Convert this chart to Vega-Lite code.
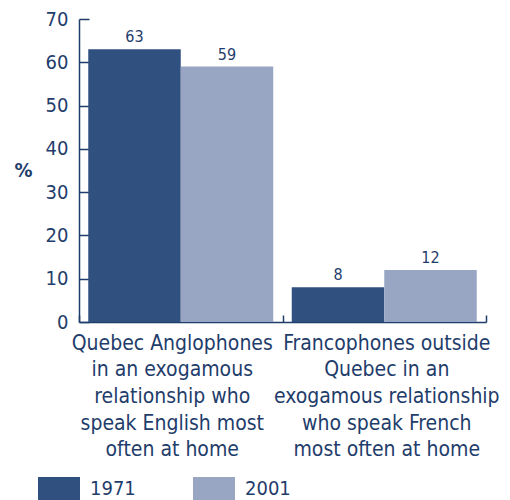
{
  "$schema": "https://vega.github.io/schema/vega-lite/v6.json",
  "autosize": "none",
  "width": 407,
  "height": 303,
  "padding": {"left": 79, "top": 19, "right": 24, "bottom": 178},
  "background": "white",
  "config": {
    "view": {"stroke": null},
    "font": "DejaVu Sans Condensed"
  },
  "data": {
    "values": [
      {"group": "Quebec Anglophones\nin an exogamous\nrelationship who\nspeak English most\noften at home", "year": "1971", "pct": 63},
      {"group": "Quebec Anglophones\nin an exogamous\nrelationship who\nspeak English most\noften at home", "year": "2001", "pct": 59},
      {"group": "Francophones outside\nQuebec in an\nexogamous relationship\nwho speak French\nmost often at home", "year": "1971", "pct": 8},
      {"group": "Francophones outside\nQuebec in an\nexogamous relationship\nwho speak French\nmost often at home", "year": "2001", "pct": 12}
    ]
  },
  "encoding": {
    "x": {
      "field": "group", "type": "nominal", "sort": null,
      "scale": {"paddingInner": 0, "paddingOuter": 0},
      "axis": {
        "title": null, "labelAngle": 0, "tickBand": "extent",
        "tickSize": -7, "labelPadding": 17,
        "labelOffset": {"condition": {"test": "datum.index == 0", "value": -9}, "value": 2},
        "labelExpr": "split(datum.label, '\\n')",
        "labelFont": "DejaVu Sans Condensed", "labelFontSize": 21, "labelLineHeight": 26.7,
        "labelColor": "#1F3D6B", "domainColor": "#1F3D6B", "tickColor": "#1F3D6B",
        "domainWidth": 1.5, "tickWidth": 1.5, "labelBaseline": "top", "labelLimit": 300
      }
    },
    "xOffset": {"field": "year", "type": "nominal", "scale": {"paddingOuter": 0.1, "paddingInner": 0}},
    "y": {
      "field": "pct", "type": "quantitative",
      "scale": {"domain": [0, 70], "nice": false},
      "axis": {
        "values": [0, 10, 20, 30, 40, 50, 60, 70],
        "grid": false, "tickSize": -10, "labelPadding": 21,
        "labelFont": "DejaVu Sans Condensed", "labelFontSize": 20, "labelColor": "#1F3D6B",
        "domainColor": "#1F3D6B", "tickColor": "#1F3D6B", "domainWidth": 1.5, "tickWidth": 1.5,
        "title": "%", "titleAngle": 0, "titleX": -56, "titleY": 151, "titleAlign": "center",
        "titleBaseline": "middle", "titleFontSize": 20, "titleFontWeight": "bold",
        "titleColor": "#1F3D6B", "titleFont": "DejaVu Sans Condensed"
      }
    }
  },
  "layer": [
    {
      "mark": {"type": "bar"},
      "encoding": {
        "color": {
          "field": "year", "type": "nominal",
          "scale": {"domain": ["1971", "2001"], "range": ["#30507F", "#98A6C4"]},
          "legend": {
            "title": null, "orient": "none", "legendX": -41, "legendY": 449,
            "direction": "horizontal", "columns": 2, "columnPadding": 57,
            "symbolType": "M-1,-0.57L1,-0.57L1,0.57L-1,0.57Z", "symbolSize": 1764,
            "symbolStrokeWidth": 0, "symbolOpacity": 1, "labelOffset": 10,
            "labelFontSize": 20, "labelColor": "#1F3D6B", "labelFont": "DejaVu Sans Condensed"
          }
        }
      }
    },
    {
      "mark": {"type": "text", "baseline": "bottom", "dy": -4, "fontSize": 16, "color": "#1F3D6B", "font": "DejaVu Sans Condensed"},
      "encoding": {"text": {"field": "pct", "type": "quantitative"}}
    }
  ]
}
